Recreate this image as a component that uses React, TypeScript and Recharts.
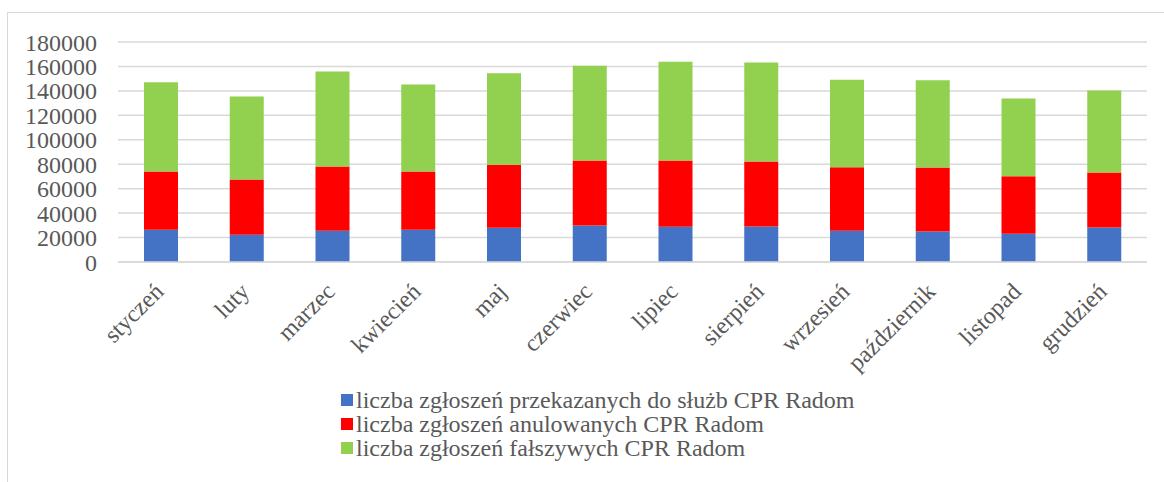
import { Bar, BarChart, CartesianGrid, Legend, XAxis, YAxis } from "recharts";

const months = [
  "styczeń",
  "luty",
  "marzec",
  "kwiecień",
  "maj",
  "czerwiec",
  "lipiec",
  "sierpień",
  "wrzesień",
  "październik",
  "listopad",
  "grudzień",
];

// liczba zgłoszeń przekazanych do służb
const przekazane = [26300, 22200, 25500, 26300, 28000, 29900, 28800, 29000, 25500, 25000, 23100, 28200];
// liczba zgłoszeń anulowanych
const anulowane = [47700, 45300, 52600, 47700, 51500, 53100, 54200, 53200, 52100, 52300, 47100, 45000];
// liczba zgłoszeń fałszywych
const falszywe = [73100, 67900, 77800, 71200, 75000, 77500, 80800, 81000, 71500, 71500, 63600, 67100];

const yTicks = [0, 20000, 40000, 60000, 80000, 100000, 120000, 140000, 160000, 180000];

const series = [
  { key: "przekazane", name: "liczba zgłoszeń przekazanych do służb CPR Radom", color: "#4472C4" },
  { key: "anulowane", name: "liczba zgłoszeń anulowanych CPR Radom", color: "#FF0000" },
  { key: "falszywe", name: "liczba zgłoszeń fałszywych CPR Radom", color: "#92D050" },
];

const data = months.map((m, i) => ({
  name: m,
  przekazane: przekazane[i],
  anulowane: anulowane[i],
  falszywe: falszywe[i],
}));

const FONT = "'Liberation Serif', 'Times New Roman', serif";
const TEXT = "#595959";

const MonthTick = (props: any) => {
  const { x, y, payload } = props;
  const tx = x + 4;
  const ty = y + 31;
  return (
    <text
      x={tx}
      y={ty}
      transform={`rotate(-45, ${tx}, ${ty})`}
      textAnchor="end"
      fill={TEXT}
      fontSize={24}
      fontFamily={FONT}
    >
      {payload.value}
    </text>
  );
};

const LegendBox = () => (
  <div style={{ fontFamily: FONT, fontSize: 24, color: TEXT, lineHeight: "24px" }}>
    {series.map((s) => (
      <div key={s.key} style={{ display: "flex", alignItems: "center", whiteSpace: "nowrap" }}>
        <span
          style={{ display: "inline-block", width: 12, height: 12, background: s.color, marginRight: 3 }}
        />
        {s.name}
      </div>
    ))}
  </div>
);

const App = () => {
  return (
    <div
      style={{
        position: "fixed",
        left: 0,
        top: 0,
        width: 1164,
        height: 482,
        overflow: "hidden",
        background: "#fff",
      }}
    >
      <div
        style={{
          position: "absolute",
          left: 7,
          top: 12,
          width: 1200,
          height: 520,
          border: "1px solid #d9d9d9",
        }}
      />
      <div style={{ position: "absolute", left: 0, top: 0 }}>
        <BarChart
          width={1164}
          height={482}
          data={data}
          margin={{ top: 42, right: 17, left: 0, bottom: 0 }}
        >
          <CartesianGrid vertical={false} stroke="#d9d9d9" strokeWidth={1.5} />
          <XAxis
            dataKey="name"
            height={220}
            interval={0}
            tickSize={0}
            tickMargin={0}
            axisLine={{ stroke: "#d9d9d9", strokeWidth: 1.5 }}
            tick={<MonthTick />}
          />
          <YAxis
            width={118}
            domain={[0, 180000]}
            ticks={yTicks}
            interval={0}
            tickSize={0}
            tickMargin={21}
            axisLine={false}
            tick={{ fill: TEXT, fontSize: 24, fontFamily: FONT }}
          />
          <Legend
            layout="vertical"
            align="center"
            verticalAlign="middle"
            content={<LegendBox />}
            wrapperStyle={{ left: 341, top: 388, width: "auto" }}
          />
          {series.map((s) => (
            <Bar
              key={s.key}
              dataKey={s.key}
              name={s.name}
              stackId="a"
              fill={s.color}
              barSize={34}
              isAnimationActive={false}
            />
          ))}
        </BarChart>
      </div>
    </div>
  );
};

export default App;
